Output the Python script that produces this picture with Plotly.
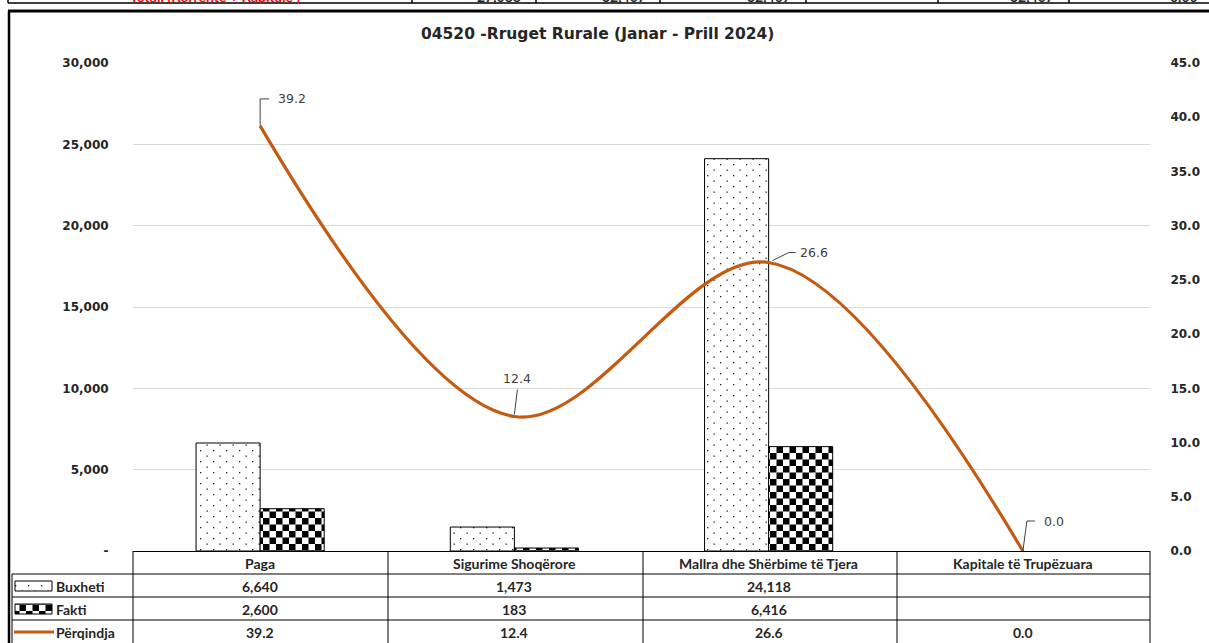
import plotly.graph_objects as go

# chart data
categories = ["Paga", "Sigurime Shoqërore", "Mallra dhe Shërbime të Tjera", "Kapitale të Trupëzuara"]
buxheti = [6640, 1473, 24118, None]
fakti = [2600, 183, 6416, None]
perqindja = [39.2, 12.4, 26.6, 0.0]
left_ticks = [0, 5000, 10000, 15000, 20000, 25000, 30000]
left_tick_text = ["-", "5,000", "10,000", "15,000", "20,000", "25,000", "30,000"]
right_ticks = [0, 5, 10, 15, 20, 25, 30, 35, 40, 45]

title = "04520 -Rruget Rurale (Janar - Prill 2024)"
series_names = ["Buxheti", "Fakti", "Përqindja"]

# the row of the table above the chart, cut off by the crop
top_label = "Totali (Korrente + Kapitale )"
top_values = ["27,088", "32,407", "32,407", "", "32,407", "0,00"]

W, H = 1209, 643
L, R, T, B = 133, 1150, 63, 551
ORANGE = "#C55A11"
TXT = "#262626"
FONT = "Lato"
WIDE = "DejaVu Sans"
# placeholder colours, swapped for Excel-style fills after rendering
DOTS = "rgb(1, 2, 3)"
CHECK = "rgb(4, 5, 6)"


def px(x):
    return (x - L) / (R - L)


def py(y):
    return (B - y) / (B - T)


def fmt(v):
    return "" if v is None else f"{v:,.0f}"


fig = go.Figure()
fig.add_trace(go.Bar(
    x=categories, y=buxheti, name=series_names[0],
    marker=dict(color=DOTS, line=dict(color="black", width=1)),
))
fig.add_trace(go.Bar(
    x=categories, y=fakti, name=series_names[1],
    marker=dict(color=CHECK, line=dict(color="black", width=1)),
))
fig.add_trace(go.Scatter(
    x=categories, y=perqindja, name=series_names[2], yaxis="y2",
    mode="lines", line=dict(color=ORANGE, width=3.2, shape="spline", smoothing=1.0),
))

shapes = []
annotations = []

# data labels with Excel-like leader lines (offsets in pixels)
label_offsets = [
    dict(path="M0,0 L0,27 L9,27", dx=16, dy=27, anchor="left"),
    dict(path="M0,2 L3,27", dx=3, dy=38, anchor="center"),
    dict(path="M4,2 L20,10 L27,10", dx=29, dy=10, anchor="left"),
    dict(path="M0,0 L4,30 L12,30", dx=19, dy=30, anchor="left"),
]
for cat, val, off in zip(categories, perqindja, label_offsets):
    shapes.append(dict(type="path", xref="x", yref="y2", xsizemode="pixel", ysizemode="pixel",
                       xanchor=cat, yanchor=val, path=off["path"],
                       line=dict(color="#404040", width=1)))
    annotations.append(dict(x=cat, y=val, xref="x", yref="y2", text=f"{val:.1f}", showarrow=False,
                            xanchor=off["anchor"], yanchor="middle", xshift=off["dx"], yshift=off["dy"],
                            font=dict(family=WIDE, size=12.5, color="#404040")))


def hline(x0, x1, y, w=1, c="black"):
    shapes.append(dict(type="line", xref="paper", yref="paper", x0=px(x0), x1=px(x1), y0=py(y), y1=py(y),
                       line=dict(color=c, width=w)))


def vline(x, y0, y1, w=1, c="black"):
    shapes.append(dict(type="line", xref="paper", yref="paper", x0=px(x), x1=px(x), y0=py(y0), y1=py(y1),
                       line=dict(color=c, width=w)))


def text(x, y, t, font, xanchor="center", xref="paper"):
    annotations.append(dict(x=x, y=py(y), xref=xref, yref="paper", text=t, showarrow=False,
                            xanchor=xanchor, yanchor="middle", font=font))


# data table under the chart
col_edges = [133, 388, 643, 897, 1150]
row_edges = [574, 597, 620]
for y in row_edges:
    hline(12, 1150, y)
vline(12, 574, 643)
for x in col_edges:
    vline(x, 551, 643)

cell_font = dict(family=FONT, size=14, color=TXT, weight="bold")
for cat in categories:
    text(cat, 563, cat, cell_font, xref="x")
rows = [[fmt(v) for v in buxheti], [fmt(v) for v in fakti], [f"{v:.1f}" for v in perqindja]]
for r, (vals, yc) in enumerate(zip(rows, [586, 609, 632])):
    for cat, t in zip(categories, vals):
        text(cat, yc, t, cell_font, xref="x")
    text(px(54), yc, series_names[r], cell_font, xanchor="left")

# legend keys
shapes.append(dict(type="rect", xref="paper", yref="paper", x0=px(15), x1=px(52), y0=py(591), y1=py(581),
                   line=dict(color="black", width=1), fillcolor=DOTS))
shapes.append(dict(type="rect", xref="paper", yref="paper", x0=px(15), x1=px(52), y0=py(614), y1=py(604),
                   line=dict(color="black", width=1), fillcolor=CHECK))
hline(14, 54, 632, w=3, c=ORANGE)

# chart frame and the cropped table above it
hline(8, W, 11, w=3)
vline(9, 11, H, w=2.5)
hline(8, W, 3, w=1.5)
for x in [8, 412, 536, 660, 806, 938, 1069]:
    vline(x, -10, 3, w=1.5)
top_font = dict(family=FONT, size=14, color="#FF0000", weight="bold")
text(px(215), -3, top_label, top_font)
for xr, t in zip([523, 648, 793, 926, 1056, 1200], top_values):
    text(px(xr), -3, t, dict(top_font, color=TXT), xanchor="right")

text(px(597), 34, title, dict(family=WIDE, size=15.5, color=TXT, weight="bold"))

tick_font = dict(family=WIDE, size=12, color=TXT, weight="bold")
fig.update_layout(
    width=W, height=H, autosize=False,
    margin=dict(l=L, r=W - R, t=T, b=H - B, pad=0, autoexpand=False),
    paper_bgcolor="white", plot_bgcolor="white",
    showlegend=False, hovermode=False,
    barmode="group", bargap=0.496, bargroupgap=0,
    xaxis=dict(type="category", showticklabels=False, showline=True, linecolor="black", linewidth=1,
               showgrid=False, ticks="", automargin=False),
    yaxis=dict(range=[0, 30000], tickvals=left_ticks, ticktext=left_tick_text, showgrid=True,
               gridcolor="#D9D9D9", gridwidth=1, zeroline=False, showline=False, automargin=False,
               ticks="outside", ticklen=21, tickcolor="rgba(0,0,0,0)", tickfont=tick_font),
    yaxis2=dict(range=[0, 45], tickvals=right_ticks, tickformat=".1f", overlaying="y", side="right",
                showgrid=False, zeroline=False, showline=False, automargin=False,
                ticks="outside", ticklen=17, tickcolor="rgba(0,0,0,0)", tickfont=tick_font),
    shapes=shapes,
    annotations=annotations,
)

# page margin off, and Excel dot / checkerboard fills for the bars and legend keys
post = """
document.body.style.margin = '0';
document.body.style.overflow = 'hidden';
document.documentElement.style.overflow = 'hidden';
var gd = document.getElementById('{plot_id}');
var svg = gd.querySelector('svg.main-svg');
var defs = svg.querySelector('defs');
var NS = 'http://www.w3.org/2000/svg';
function mk(tag, attrs, parent) {
  var e = document.createElementNS(NS, tag);
  for (var k in attrs) e.setAttribute(k, attrs[k]);
  parent.appendChild(e);
  return e;
}
var pd = mk('pattern', {id: 'xldots', patternUnits: 'userSpaceOnUse', width: 13, height: 11}, defs);
mk('rect', {x: 0, y: 0, width: 13, height: 11, fill: 'white'}, pd);
mk('rect', {x: 2, y: 2, width: 1.3, height: 1.3, fill: '#222'}, pd);
mk('rect', {x: 8.5, y: 7.5, width: 1.3, height: 1.3, fill: '#222'}, pd);
var pc = mk('pattern', {id: 'xlcheck', patternUnits: 'userSpaceOnUse', width: 13, height: 13}, defs);
mk('rect', {x: 0, y: 0, width: 13, height: 13, fill: 'white'}, pc);
mk('rect', {x: 0, y: 0, width: 6.5, height: 6.5, fill: 'black'}, pc);
mk('rect', {x: 6.5, y: 6.5, width: 6.5, height: 6.5, fill: 'black'}, pc);
gd.querySelectorAll('path').forEach(function(p) {
  var s = p.getAttribute('style') || '';
  if (s.indexOf('rgb(1, 2, 3)') >= 0) p.style.fill = 'url(#xldots)';
  if (s.indexOf('rgb(4, 5, 6)') >= 0) p.style.fill = 'url(#xlcheck)';
});
"""

fig.write_html("out.html", post_script=post, config={"displayModeBar": False})
